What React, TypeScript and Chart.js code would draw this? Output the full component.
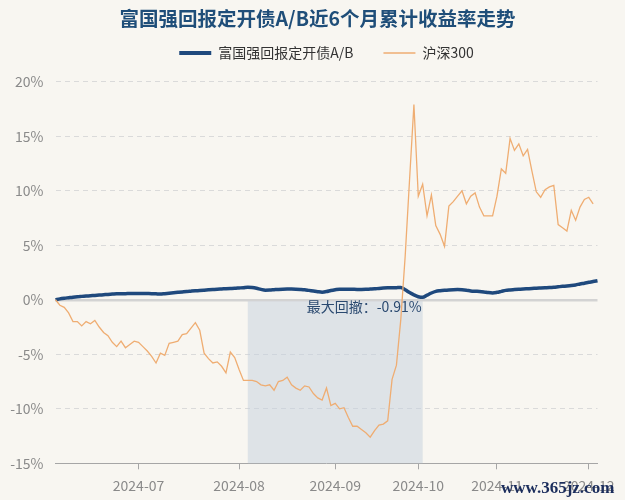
import React, { useEffect, useRef } from 'react';
import { Chart, registerables } from 'chart.js';

Chart.register(...registerables);

const FONT = '"Noto Sans CJK SC", "Noto Sans", sans-serif';
const BG = '#f8f6f1';
const FUND_COLOR = '#1f497d';
const INDEX_COLOR = '#efad72';

const chartTitle = '富国强回报定开债A/B近6个月累计收益率走势';
const fundName = '富国强回报定开债A/B';
const indexName = '沪深300';
const siteMark = 'www.365jz.com';

// trading days per month
const june = [3, 4, 5, 6, 7, 11, 12, 13, 14, 17, 18, 19, 20, 21, 24, 25, 26, 27, 28];
const july = [1, 2, 3, 4, 5, 8, 9, 10, 11, 12, 15, 16, 17, 18, 19, 22, 23, 24, 25, 26, 29, 30, 31];
const august = [1, 2, 5, 6, 7, 8, 9, 12, 13, 14, 15, 16, 19, 20, 21, 22, 23, 26, 27, 28, 29, 30];
const september = [2, 3, 4, 5, 6, 9, 10, 11, 12, 13, 18, 19, 20, 23, 24, 25, 26, 27, 30];
const october = [8, 9, 10, 11, 14, 15, 16, 17, 18, 21, 22, 23, 24, 25, 28, 29, 30, 31];
const november = [1, 4, 5, 6, 7, 8, 11, 12, 13, 14, 15, 18, 19, 20, 21, 22, 25, 26, 27, 28, 29];
const december = [2, 3, 4];
const months: [string, number[]][] = [
  ['2024-06', june], ['2024-07', july], ['2024-08', august], ['2024-09', september],
  ['2024-10', october], ['2024-11', november], ['2024-12', december],
];
const dates = months.flatMap(([m, days]) => days.map((d) => `${m}-${String(d).padStart(2, '0')}`));

// cumulative return (%)
const fundReturn = [
  0.00, 0.08, 0.14, 0.19, 0.24, 0.28, 0.31, 0.34, 0.37, 0.40,
  0.43, 0.46, 0.49, 0.52, 0.55, 0.56, 0.56, 0.57, 0.57, 0.58,
  0.58, 0.57, 0.56, 0.54, 0.52, 0.56, 0.60, 0.64, 0.68, 0.72,
  0.76, 0.79, 0.82, 0.85, 0.88, 0.91, 0.94, 0.97, 0.99, 1.01,
  1.03, 1.05, 1.08, 1.11, 1.15, 1.12, 1.05, 0.95, 0.88, 0.89,
  0.92, 0.95, 0.97, 0.98, 0.98, 0.97, 0.95, 0.92, 0.86, 0.80,
  0.74, 0.70, 0.75, 0.85, 0.92, 0.97, 0.97, 0.97, 0.96, 0.95,
  0.95, 0.96, 0.98, 1.00, 1.04, 1.07, 1.09, 1.10, 1.11, 1.12,
  0.92, 0.66, 0.45, 0.28, 0.22, 0.42, 0.62, 0.77, 0.83, 0.87,
  0.90, 0.92, 0.93, 0.91, 0.87, 0.81, 0.78, 0.76, 0.72, 0.66,
  0.63, 0.68, 0.77, 0.86, 0.90, 0.93, 0.96, 0.99, 1.01, 1.03,
  1.06, 1.08, 1.10, 1.12, 1.15, 1.19, 1.23, 1.26, 1.30, 1.36,
  1.45, 1.52, 1.60, 1.67, 1.75,
];

const hs300Return = [
  0.0, -0.5, -0.7, -1.2, -2.0, -2.0, -2.4, -2.0, -2.2, -1.9,
  -2.5, -3.0, -3.3, -3.9, -4.3, -3.8, -4.4, -4.1, -3.8, -3.9,
  -4.3, -4.7, -5.2, -5.8, -4.9, -5.1, -4.0, -3.9, -3.8, -3.2,
  -3.1, -2.6, -2.1, -2.8, -4.9, -5.4, -5.8, -5.7, -6.1, -6.7,
  -4.8, -5.3, -6.4, -7.4, -7.4, -7.4, -7.5, -7.8, -7.9, -7.8,
  -8.3, -7.5, -7.4, -7.1, -7.8, -8.1, -8.3, -7.9, -8.0, -8.6,
  -9.0, -9.2, -8.1, -9.7, -9.5, -10.0, -9.9, -10.8, -11.6, -11.6,
  -11.9, -12.2, -12.6, -12.0, -11.5, -11.4, -11.1, -7.3, -6.0, -1.8,
  4.0, 11.0, 17.9, 9.5, 10.6, 7.7, 9.6, 6.8, 6.0, 4.9,
  8.6, 9.0, 9.5, 10.0, 8.8, 9.5, 9.8, 8.5, 7.7, 7.7,
  7.7, 9.5, 12.0, 11.6, 14.8, 13.7, 14.3, 13.2, 13.8, 11.8,
  9.9, 9.4, 10.1, 10.35, 10.5, 6.9, 6.6, 6.3, 8.2, 7.3,
  8.5, 9.2, 9.4, 8.8, null,
];

const yMin = -15;
const yMax = 20;
const yStep = 5;

const drawdownStart = 44;
const drawdownEnd = 84;
const drawdownText = '最大回撤：-0.91%';

const monthLabel = (i: number) => {
  if (i <= 0) return '';
  const cur = dates[i].slice(0, 7);
  const prev = dates[i - 1].slice(0, 7);
  return cur !== prev ? cur : '';
};

const legendSpacer = {
  id: 'legendSpacer',
  beforeInit(chart: any) {
    const legend = chart.legend;
    if (!legend) return;
    const orig = legend.fit;
    legend.fit = function () {
      orig.call(this);
      this.height += 11.7;
    };
  },
};

const drawdownPlugin = {
  id: 'drawdown',
  beforeDatasetsDraw(chart: any) {
    const { ctx, chartArea, scales } = chart;
    const x1 = scales.x.getPixelForValue(drawdownStart);
    const x2 = scales.x.getPixelForValue(drawdownEnd);
    const y0 = scales.y.getPixelForValue(0) + 1.5;
    ctx.save();
    ctx.fillStyle = 'rgba(196,208,222,0.5)';
    ctx.fillRect(x1, y0, x2 - x1, chartArea.bottom - y0);
    ctx.restore();
  },
  afterDatasetsDraw(chart: any) {
    const { ctx, scales } = chart;
    const x2 = scales.x.getPixelForValue(drawdownEnd);
    const y0 = scales.y.getPixelForValue(0);
    ctx.save();
    ctx.font = `14px ${FONT}`;
    ctx.fillStyle = '#2b4a70';
    ctx.textAlign = 'right';
    ctx.textBaseline = 'middle';
    ctx.fillText(drawdownText, x2 - 1, y0 + 7);
    ctx.restore();
  },
  afterDraw(chart: any) {
    const { ctx } = chart;
    ctx.save();
    ctx.font = 'bold 17px "Liberation Serif", serif';
    ctx.fillStyle = '#1b2d5c';
    ctx.textAlign = 'left';
    ctx.textBaseline = 'middle';
    ctx.fillText(siteMark, 501, 489);
    ctx.restore();
  },
};

export default function App() {
  const ref = useRef<HTMLCanvasElement>(null);
  useEffect(() => {
    document.body.style.margin = '0';
    document.body.style.background = BG;
    const canvas = ref.current;
    if (!canvas) return;
    const chart = new Chart(canvas, {
      type: 'line',
      data: {
        labels: dates,
        datasets: [
          {
            label: fundName,
            data: fundReturn,
            borderColor: FUND_COLOR,
            backgroundColor: FUND_COLOR,
            borderWidth: 3.5,
            pointRadius: 0,
            cubicInterpolationMode: 'monotone',
            order: 1,
          },
          {
            label: indexName,
            data: hs300Return as any,
            borderColor: INDEX_COLOR,
            backgroundColor: INDEX_COLOR,
            borderWidth: 1.3,
            pointRadius: 0,
            tension: 0,
            order: 0,
          },
        ],
      },
      options: {
        animation: false,
        responsive: true,
        maintainAspectRatio: false,
        layout: { padding: { top: 0, right: 0, bottom: 0, left: 10 } },
        plugins: {
          title: {
            display: true,
            text: chartTitle,
            color: '#1f4e79',
            font: { size: 19.5, weight: 'bold', family: FONT },
            padding: { top: 7, bottom: -14.4 },
          },
          legend: {
            display: true,
            fullSize: false,
            labels: {
              usePointStyle: true,
              pointStyleWidth: 32,
              boxHeight: 14,
              padding: 30,
              color: '#333333',
              font: { size: 14, family: FONT },
              generateLabels: (chart: any) =>
                chart.data.datasets.map((ds: any, i: number) => ({
                  text: ds.label,
                  fillStyle: ds.borderColor,
                  strokeStyle: ds.borderColor,
                  lineWidth: i === 0 ? 4 : 1.5,
                  pointStyle: 'line',
                  hidden: false,
                  datasetIndex: i,
                  fontColor: '#333333',
                })),
            },
          },
          tooltip: { enabled: false },
        },
        scales: {
          x: {
            type: 'category',
            offset: false,
            grid: {
              display: true,
              drawOnChartArea: false,
              drawTicks: true,
              tickLength: 6,
              tickWidth: 1,
              tickColor: (ctx: any) => (monthLabel(ctx.index) ? '#a6a6a6' : 'rgba(0,0,0,0)'),
            },
            border: { display: true, color: '#a6a6a6', width: 1 },
            ticks: {
              autoSkip: false,
              maxRotation: 0,
              minRotation: 0,
              padding: 8,
              color: '#8a8a8a',
              font: { size: 14, family: FONT },
              callback: (_v: any, i: number) => monthLabel(i),
            },
            afterFit: (s: any) => {
              s.height = 36.7;
            },
          },
          y: {
            min: yMin,
            max: yMax,
            ticks: {
              stepSize: yStep,
              padding: 12,
              color: '#8a8a8a',
              font: { size: 14, family: FONT },
              callback: (v: any) => `${v}%`,
            },
            grid: {
              drawTicks: false,
              color: (ctx: any) =>
                ctx.tick && ctx.tick.value === 0 ? '#d3d3d3' : ctx.tick && ctx.tick.value === yMin ? 'rgba(0,0,0,0)' : '#dadada',
              lineWidth: (ctx: any) => (ctx.tick && ctx.tick.value === 0 ? 2.5 : 1),
            },
            border: {
              display: false,
              dash: (ctx: any) => (ctx.tick && ctx.tick.value === 0 ? [] : [5, 4]),
            },
            afterFit: (s: any) => {
              s.width = 45.5;
            },
          },
          yRight: {
            type: 'linear',
            position: 'right',
            display: true,
            grid: { display: false, drawTicks: false },
            border: { display: false },
            ticks: { display: false },
            afterFit: (s: any) => {
              s.width = 27.5;
            },
          },
        },
      } as any,
      plugins: [legendSpacer, drawdownPlugin],
    });
    return () => chart.destroy();
  }, []);

  return (
    <div style={{ width: 625, height: 500, position: 'relative', background: BG }}>
      <canvas ref={ref} />
    </div>
  );
}
